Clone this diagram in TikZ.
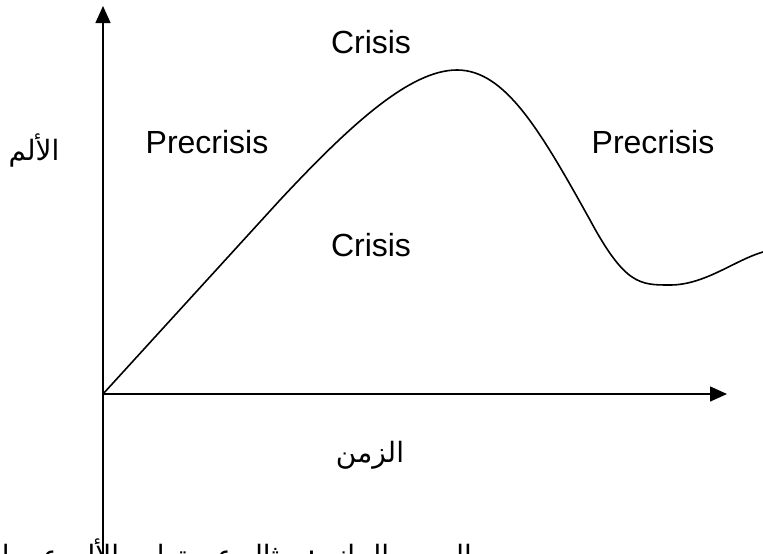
\documentclass[tikz,border=0pt]{standalone}
\usepackage{fontspec}
\setmainfont{Liberation Sans}
\newfontfamily\arabicfont[Script=Arabic]{DejaVu Sans}
\TeXXeTstate=1
\usetikzlibrary{arrows.meta}

\tikzset{
  axis/.style={line width=1.5pt,-{Triangle[length=17pt,width=15pt]}},
  curveline/.style={line width=1.6pt,line join=round},
  phase/.style={font=\fontsize{32}{38}\selectfont,inner sep=0pt},
  artext/.style={font=\arabicfont\fontsize{28}{34}\selectfont,inner sep=0pt}
}

\begin{document}
\begin{tikzpicture}[x=1pt,y=-1pt]
\useasboundingbox (0,0) rectangle (763,554);
\clip (0,0) rectangle (763,554);

% axes
\coordinate (o) at (103,394);
\coordinate (ybot) at (103,560);
\coordinate (ytip) at (103,6);
\coordinate (xtip) at (727,394);
\draw[axis] (ybot) -- (ytip);
\draw[axis] (o) -- (xtip);

% pain curve
\coordinate (bend) at (280,200);
\coordinate (peak) at (457,70);
\coordinate (fall) at (590,220);
\coordinate (low) at (670,285);
\coordinate (rise) at (763,252);
\draw[curveline] (o) -- (bend)
  .. controls (350,125) and (410,70) .. (peak)
  .. controls (505,70) and (540,130) .. (fall)
  .. controls (625,285) and (640,285) .. (low)
  .. controls (705,285) and (735,260) .. (rise);

% phase labels
\node[phase] (crisistop) at (371,42) {Crisis};
\node[phase] (precrisisl) at (207,142) {Precrisis};
\node[phase] (precrisisr) at (653,142) {Precrisis};
\node[phase] (crisismid) at (371,245) {Crisis};

% axis labels
\node[artext] (pain) at (34,150) {\beginR الألم\endR};
\node[artext] (time) at (370,455) {\beginR الزمن\endR};

% caption, cut by the page edge as in the source
\node[artext,anchor=base east] (caption) at (472,565)
  {\beginR الرسم البياني: مثال عن تطور الألم عبر الزمن في الأزمة\endR};
\end{tikzpicture}
\end{document}
